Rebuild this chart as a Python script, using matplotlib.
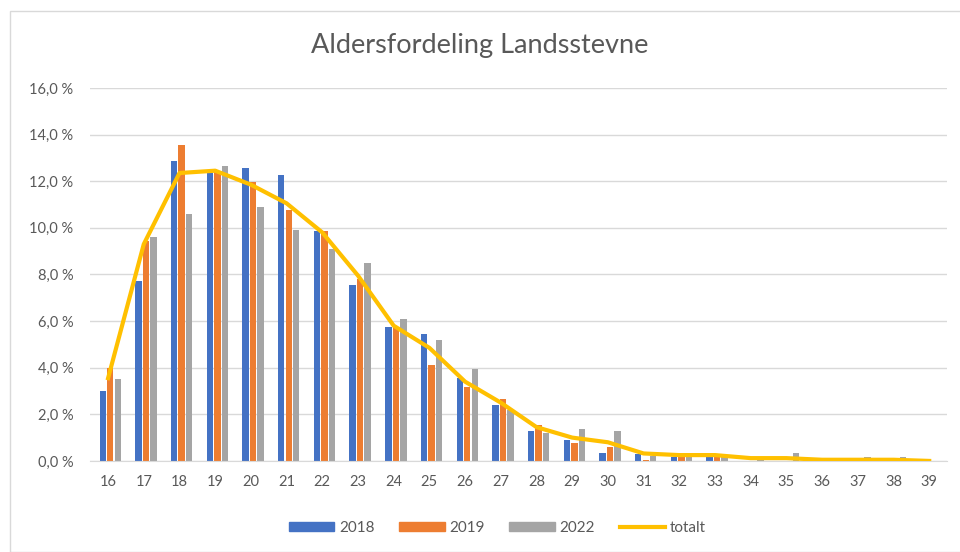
import matplotlib
matplotlib.use("Agg")
import matplotlib.pyplot as plt
import numpy as np
from matplotlib.patches import Rectangle
from matplotlib.lines import Line2D

plt.rcParams['font.family'] = ['Lato', 'DejaVu Sans']

# alder 16..39
ages = [str(a) for a in range(16, 40)]
share_2018 = [3.0, 7.7, 12.85, 12.35, 12.55, 12.25, 9.85, 7.55, 5.75, 5.45, 3.55, 2.4, 1.3, 0.9, 0.35, 0.3,
              0.15, 0.15, 0.0, 0.0, 0.0, 0.0, 0.0, 0.0]
share_2019 = [4.0, 9.45, 13.55, 12.45, 11.95, 10.75, 9.85, 7.8, 5.75, 4.1, 3.15, 2.65, 1.55, 0.75, 0.6, 0.05,
              0.15, 0.15, 0.0, 0.0, 0.0, 0.0, 0.0, 0.0]
share_2022 = [3.5, 9.6, 10.6, 12.65, 10.9, 9.9, 9.1, 8.5, 6.1, 5.2, 3.95, 2.2, 1.2, 1.35, 1.3, 0.2,
              0.15, 0.15, 0.08, 0.33, 0.0, 0.18, 0.18, 0.0]
share_total = [3.55, 9.3, 12.35, 12.45, 11.85, 11.05, 9.8, 7.95, 5.8, 4.85, 3.4, 2.5, 1.45, 1.0, 0.8, 0.32,
               0.25, 0.25, 0.12, 0.12, 0.05, 0.05, 0.05, 0.0]

txt = '#595959'
fig = plt.figure(figsize=(9.6, 5.52), dpi=100)
ax = fig.add_axes([0.094, 0.165, 0.8925, 0.6757])

x = np.arange(len(ages))
w = 0.18
step = 0.21
ax.bar(x - step + 0.06, share_2018, w, color='#4472C4', label='2018', zorder=2)
ax.bar(x + 0.06, share_2019, w, color='#ED7D31', label='2019', zorder=2)
ax.bar(x + step + 0.06, share_2022, w, color='#A5A5A5', label='2022', zorder=2)
ax.plot(x, share_total, color='#FFC000', lw=3, label='totalt', zorder=3, solid_joinstyle='round')

ax.set_xlim(-0.5, len(ages) - 0.5)
ax.set_ylim(0, 16)
ax.set_yticks(np.arange(0, 17, 2))
ax.set_yticklabels([f"{v:.1f} %".replace('.', ',') for v in np.arange(0, 17, 2)])
ax.set_xticks(x)
ax.set_xticklabels(ages)
ax.grid(axis='y', color='#D9D9D9', lw=1, zorder=0)
for s in ['top', 'right', 'left']:
    ax.spines[s].set_visible(False)
ax.spines['bottom'].set_color('#D9D9D9')
ax.tick_params(length=0, colors=txt, labelsize=10.5)
ax.tick_params(axis='y', pad=12)
ax.tick_params(axis='x', pad=10)

fig.text(0.5, 0.918, 'Aldersfordeling Landsstevne', ha='center', va='center',
         fontsize=19.5, color=txt, fontweight='normal')

handles = [Rectangle((0, 0), 1, 1, color='#4472C4'), Rectangle((0, 0), 1, 1, color='#ED7D31'),
           Rectangle((0, 0), 1, 1, color='#A5A5A5'), Line2D([0], [0], color='#FFC000', lw=3)]
leg = fig.legend(handles, ['2018', '2019', '2022', 'totalt'], loc='center', bbox_to_anchor=(0.518, 0.043),
                 ncol=4, frameon=False, fontsize=11, handlelength=3.0, handleheight=0.5,
                 columnspacing=1.6, handletextpad=0.3)
for t in leg.get_texts():
    t.set_color(txt)

fig.patches.append(Rectangle((10 / 960, 0), 1, 1 - 11 / 552, transform=fig.transFigure,
                             fill=False, ec='#D9D9D9', lw=1))
fig.savefig('out.png', dpi=100)
